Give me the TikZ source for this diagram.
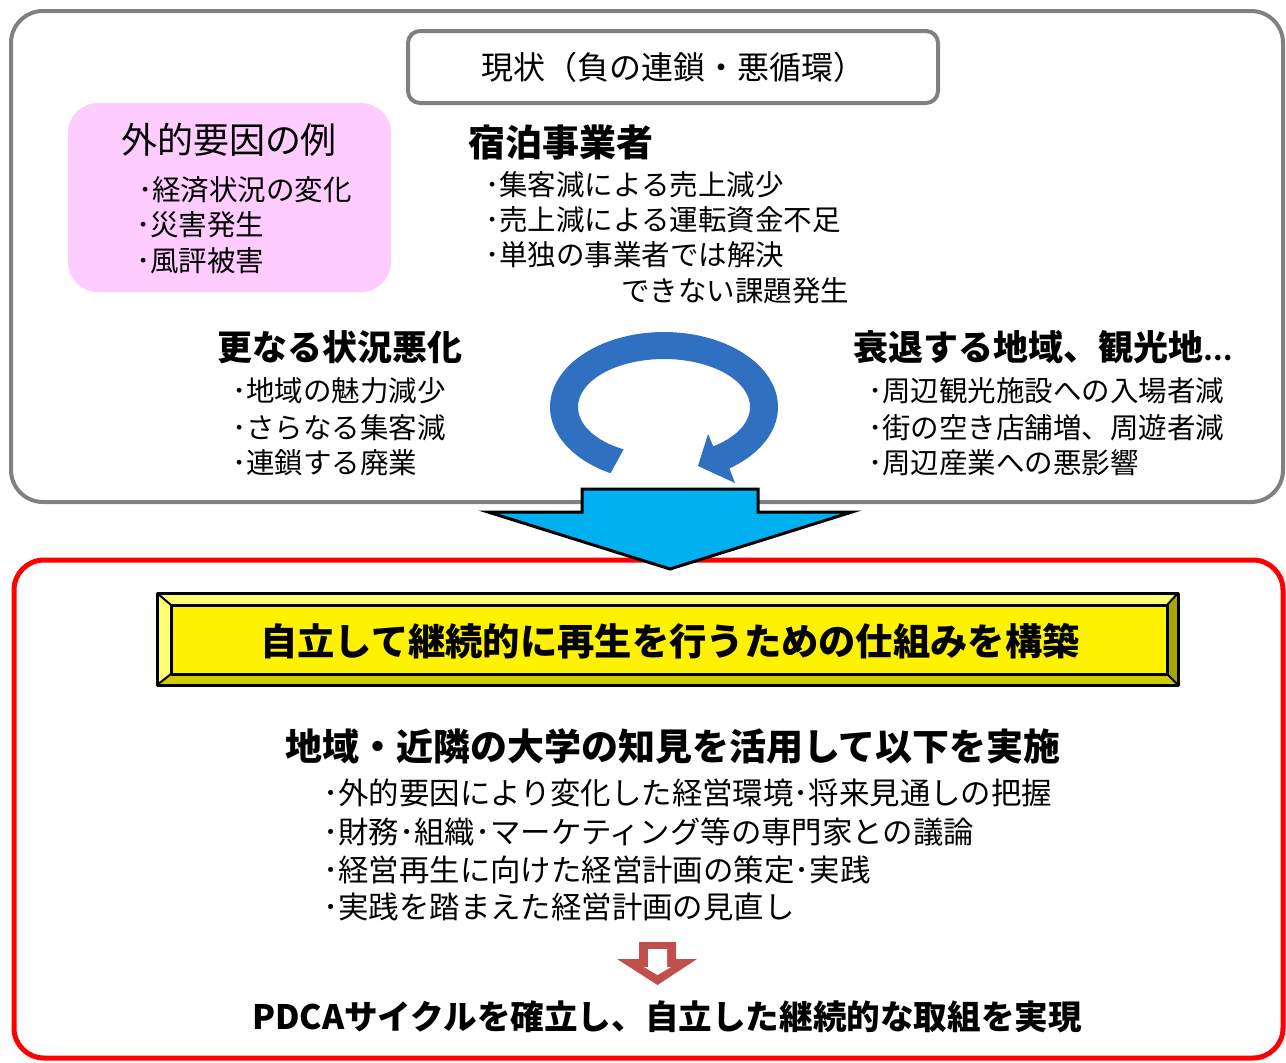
\documentclass[tikz,border=0pt]{standalone}
\usepackage{fontspec}
\setmainfont{Noto Sans CJK JP}
\definecolor{boxgray}{HTML}{808080}
\definecolor{pinkfill}{HTML}{FFCCFF}
\definecolor{cycleblue}{HTML}{3070C0}
\definecolor{arrowblue}{HTML}{00B0F0}
\definecolor{softred}{HTML}{C0504D}
\definecolor{bevlight}{HTML}{FFFF70}
\definecolor{bevdark}{HTML}{CCCC00}
\definecolor{bevdarker}{HTML}{A6A600}
\newcommand\fsz[1]{\fontsize{#1}{#1}\selectfont}
\begin{document}
\begin{tikzpicture}[x=1pt,y=-1pt,
  txt/.style={inner sep=0pt, anchor=west},
  headtxt/.style={txt, font=\fsz{35}\bfseries},
  bul/.style={txt, font=\fsz{28.5}},
  bigbul/.style={txt, font=\fsz{30.4}},
  bevline/.style={draw=black, line width=3pt, line join=round}]
\useasboundingbox (0,0) rectangle (1286,1063);

% outer gray frame
\draw[boxgray, line width=4pt, rounded corners=32pt] (11,11) rectangle (1283,502);
% title box
\node[draw=boxgray, line width=4pt, rounded corners=12pt, minimum width=530pt, minimum height=72pt, inner sep=0pt, font=\fsz{32}] (title) at (673,67) {現状（負の連鎖・悪循環）};

% pink box
\node[fill=pinkfill, rounded corners=30pt, minimum width=323pt, minimum height=189pt, inner sep=0pt] (pink) at (229.5,197.5) {};
\node[font=\fsz{36}, inner sep=0pt] (exthead) at (229,140) {外的要因の例};
\node[bul] (ext1) at (138,190) {･経済状況の変化};
\node[bul] (ext2) at (136,225) {･災害発生};
\node[bul] (ext3) at (136,261) {･風評被害};

% lodging operators
\node[headtxt, font=\fsz{37}\bfseries] (lodge) at (468,142) {宿泊事業者};
\node[bul] (lodge1) at (485,185) {･集客減による売上減少};
\node[bul] (lodge2) at (485,220) {･売上減による運転資金不足};
\node[bul] (lodge3) at (485,255) {･単独の事業者では解決};
\node[bul] (lodge4) at (621,291) {できない課題発生};

% worsening
\node[headtxt] (worse) at (217,347) {更なる状況悪化};
\node[bul] (worse1) at (232,391) {･地域の魅力減少};
\node[bul] (worse2) at (232,428) {･さらなる集客減};
\node[bul] (worse3) at (232,463) {･連鎖する廃業};

% declining region
\node[headtxt] (decline) at (853,347) {衰退する地域、観光地{\fsz{26}…}};
\node[bul] (decline1) at (868,391) {･周辺観光施設への入場者減};
\node[bul] (decline2) at (868,428) {･街の空き店舗増、周遊者減};
\node[bul] (decline3) at (868,463) {･周辺産業への悪影響};

% cycle arrow
\fill[cycleblue] plot[domain=118:415, samples=90] ({664+114*cos(\x)},{407+75*sin(\x)})
  -- (735,483) -- (698,466) -- (708,434)
  -- plot[domain=415:118, samples=90] ({664+86*cos(\x)},{407+48*sin(\x)}) -- cycle;

% red frame
\draw[red, line width=5pt, rounded corners=30pt] (14,560) rectangle (1283,1058);

% big down arrow
\draw[line width=3pt, fill=arrowblue, line join=miter]
  (582,489) -- (758,489) -- (758,512) -- (852,512) -- (670,569) -- (488,512) -- (582,512) -- cycle;

% bevel box
\fill[bevlight] (157,593) -- (1178,593) -- (1167,605) -- (171,605) -- cycle;
\fill[bevlight] (157,593) -- (171,605) -- (171,674) -- (157,685) -- cycle;
\fill[bevdark] (157,685) -- (171,674) -- (1167,674) -- (1178,685) -- cycle;
\fill[bevdarker] (1178,593) -- (1167,605) -- (1167,674) -- (1178,685) -- cycle;
\fill[yellow] (171,605) rectangle (1167,674);
\draw[bevline] (157,593) rectangle (1178,685);
\draw[bevline] (171,605) rectangle (1167,674);
\draw[black, line width=2pt] (157,593) -- (171,605) (1178,593) -- (1167,605)
  (157,685) -- (171,674) (1178,685) -- (1167,674);
\node[font=\fsz{37.3}\bfseries, inner sep=0pt] (goal) at (670,641) {自立して継続的に再生を行うための仕組みを構築};

% measures
\node[font=\fsz{37}\bfseries, inner sep=0pt] (measure) at (673,746) {地域・近隣の大学の知見を活用して以下を実施};
\node[bigbul] (m1) at (323,793) {･外的要因により変化した経営環境･将来見通しの把握};
\node[bigbul] (m2) at (323,832) {･財務･組織･マーケティング等の専門家との議論};
\node[bigbul] (m3) at (323,870) {･経営再生に向けた経営計画の策定･実践};
\node[bigbul] (m4) at (323,907) {･実践を踏まえた経営計画の見直し};

% small red arrow
\fill[softred] (639,942) -- (676,942) -- (676,959) -- (697,959) -- (657.5,985) -- (617,959) -- (639,959) -- cycle;
\fill[white] (648,949) -- (667,949) -- (667,967) -- (671,967) -- (657.5,975) -- (644,967) -- (648,967) -- cycle;

\node[font=\fsz{33.6}\bfseries, inner sep=0pt] (pdca) at (667,1017) {PDCAサイクルを確立し、自立した継続的な取組を実現};
\end{tikzpicture}
\end{document}
